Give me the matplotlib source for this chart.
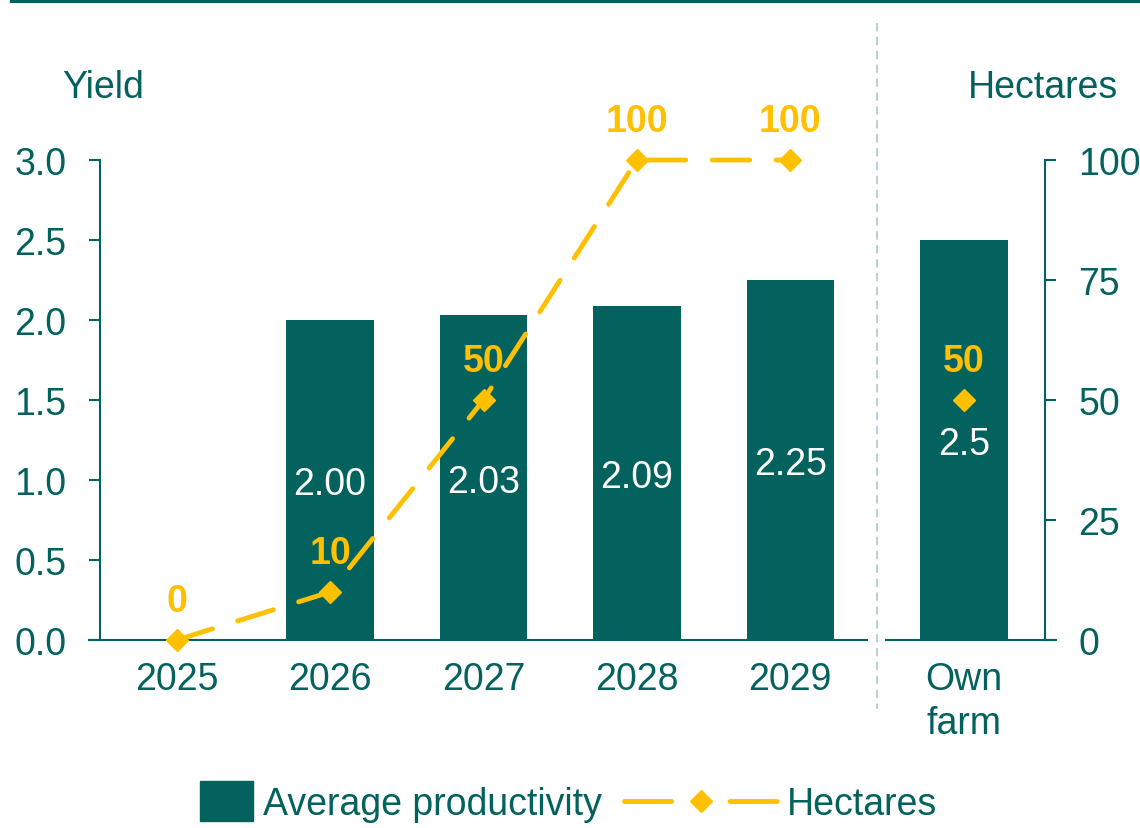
import matplotlib.pyplot as plt
from matplotlib.lines import Line2D
from matplotlib.patches import Patch, Rectangle
from matplotlib.legend_handler import HandlerPatch

plt.rcParams['font.family'] = ['Liberation Sans', 'DejaVu Sans']
plt.rcParams['lines.scale_dashes'] = False

GREEN = '#03625E'
GOLD = '#FFC000'
SEP = '#A3CCCB'
FS = 27

# --- data ---
years = ['2025', '2026', '2027', '2028', '2029']
yield_vals = [0, 2.00, 2.03, 2.09, 2.25]
hectares = [0, 10, 50, 100, 100]
own_label = 'Own\nfarm'
own_yield = 2.5
own_hectares = 50
yield_ticks = [0, 0.5, 1.0, 1.5, 2.0, 2.5, 3.0]
hect_ticks = [0, 25, 50, 75, 100]

W, H = 1140, 829
fig = plt.figure(figsize=(W / 100, H / 100), dpi=100)
ax = fig.add_axes([100 / W, 1 - 641 / H, 767 / W, 480 / H])
axr = fig.add_axes([886 / W, 1 - 641 / H, 159 / W, 480 / H])

# --- yearly bars ---
x = list(range(len(years)))
bars = ax.bar(x, yield_vals, width=0.57, color=GREEN)
for b, v in zip(bars, yield_vals):
    if v:
        ax.text(b.get_x() + b.get_width() / 2, v / 2, f'{v:.2f}',
                ha='center', va='center_baseline', color='white', fontsize=FS)
ax.set_xlim(-0.5, 4.5)
ax.set_ylim(0, 3)
ax.set_yticks(yield_ticks, [f'{t:.1f}' for t in yield_ticks])
ax.set_xticks(x, years)
for s in ['top', 'right', 'bottom']:
    ax.spines[s].set_visible(False)
ax.spines['left'].set_color(GREEN)
ax.spines['left'].set_linewidth(1.5)
ax.axhline(0, xmin=-11 / 767, xmax=1, color=GREEN, lw=1.5, clip_on=False)
ax.tick_params(axis='y', direction='out', length=8, width=1.5, color=GREEN,
               labelcolor=GREEN, labelsize=FS, pad=16)
ax.tick_params(axis='x', length=0, labelcolor=GREEN, labelsize=FS, pad=15)

# hectares line on its own scale
axh = ax.twinx()
axh.set_ylim(0, 100)
axh.yaxis.set_visible(False)
for s in axh.spines.values():
    s.set_visible(False)
axh.plot(x, hectares, color=GOLD, lw=3.5, dashes=(27, 19), dash_capstyle='round',
         marker='D', ms=11, clip_on=False)
for i, h in zip(x, hectares):
    axh.annotate(f'{h}', (i, h), xytext=(0, 31), textcoords='offset points',
                 ha='center', va='center_baseline', color=GOLD, fontsize=FS,
                 fontweight='bold', annotation_clip=False)

# --- own farm panel ---
axr.bar([0], [own_yield], width=0.57, color=GREEN)
axr.text(0, own_yield / 2, f'{own_yield:g}', ha='center', va='center_baseline',
         color='white', fontsize=FS)
axr.set_xlim(-0.51, 0.53)
axr.set_ylim(0, 3)
axr.set_xticks([0], [own_label], linespacing=1.3)
axr.set_yticks([])
for s in axr.spines.values():
    s.set_visible(False)
axr.axhline(0, xmin=0, xmax=170 / 159, color=GREEN, lw=1.5, clip_on=False)
axr.tick_params(axis='x', length=0, labelcolor=GREEN, labelsize=FS, pad=15)

axr2 = axr.twinx()
axr2.set_ylim(0, 100)
axr2.set_yticks(hect_ticks)
for s in ['top', 'left', 'bottom']:
    axr2.spines[s].set_visible(False)
axr2.spines['right'].set_color(GREEN)
axr2.spines['right'].set_linewidth(1.5)
axr2.tick_params(axis='y', direction='out', length=8, width=1.5, color=GREEN,
                 labelcolor=GREEN, labelsize=FS, pad=16)
axr2.plot([0], [own_hectares], color=GOLD, marker='D', ms=11, ls='none')
axr2.annotate(f'{own_hectares}', (0, own_hectares), xytext=(0, 31),
              textcoords='offset points', ha='center', va='center_baseline',
              color=GOLD, fontsize=FS, fontweight='bold')

# --- axis titles, rules ---
fig.text(62 / W, 1 - 88 / H, 'Yield', ha='left', va='center', color=GREEN, fontsize=FS)
fig.text(1118 / W, 1 - 88 / H, 'Hectares', ha='right', va='center', color=GREEN, fontsize=FS)
fig.add_artist(Line2D([12 / W, 1], [1 - 1.5 / H] * 2, transform=fig.transFigure,
                      color=GREEN, lw=3))
fig.add_artist(Line2D([877 / W] * 2, [1 - 24 / H, 1 - 710 / H], transform=fig.transFigure,
                      color=SEP, lw=1.2, dashes=(6, 4)))


# --- legend ---
def square(legend, orig_handle, xdescent, ydescent, width, height, fontsize):
    w, h = 38, 29
    return Rectangle((-xdescent + width - w, -ydescent + height / 2 - h / 2), w, h)


bar_handle = Patch(color=GREEN, label='Average productivity')
line_handle = Line2D([], [], color=GOLD, lw=3.5, dashes=(34, 42), dash_capstyle='round',
                     marker='D', ms=11, label='Hectares')
fig.legend(handles=[bar_handle, line_handle],
           handler_map={bar_handle: HandlerPatch(patch_func=square)},
           loc='center left', bbox_to_anchor=(100 / W, 1 - 805 / H), ncol=2,
           frameon=False, fontsize=FS, handlelength=4.08, handletextpad=0.26,
           columnspacing=0.6, borderpad=0, borderaxespad=0, labelcolor=GREEN)

fig.savefig('out.png', dpi=100)
